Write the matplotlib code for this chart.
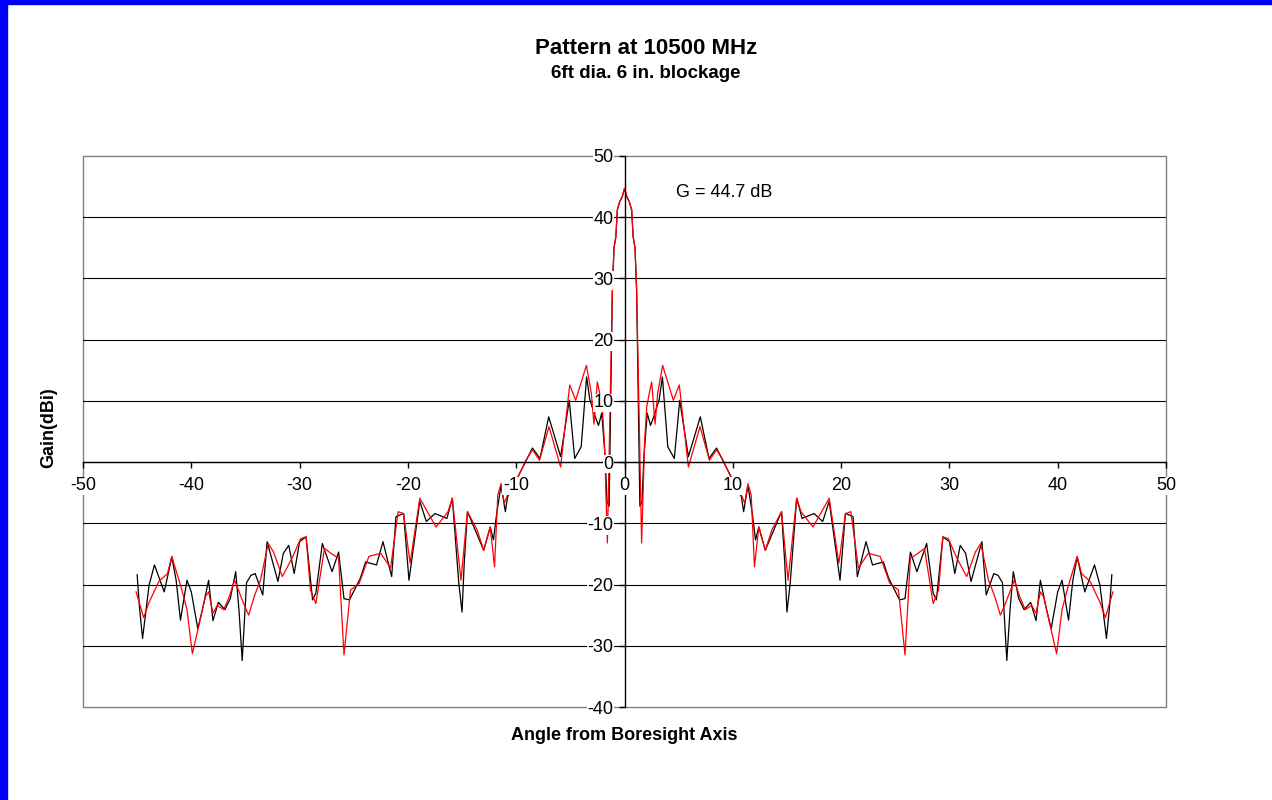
import matplotlib
matplotlib.use('Agg')
import matplotlib.pyplot as plt
import matplotlib.patches as patches
import numpy as np

plt.rcParams['font.family'] = ['Liberation Sans', 'DejaVu Sans']
plt.rcParams['axes.unicode_minus'] = False

# one side of the cut (0..45 deg); the measured pattern is symmetric about boresight
red_angle = [0.0, 0.2, 0.45, 0.66, 0.8, 0.97, 1.12, 1.58, 1.85, 2.05, 2.35, 2.51, 2.82, 3.06,
             3.52, 4.51, 5.06, 5.9, 6.97, 7.85, 8.5, 9.1, 9.74, 10.8, 11.1, 11.4, 11.7, 12.0,
             12.4, 13.0, 13.6, 14.5, 15.1, 15.9, 16.3, 17.4, 18.9, 19.8, 20.4, 20.9, 21.6,
             22.5, 23.6, 24.5, 25.3, 25.9, 26.4, 27.1, 27.7, 28.5, 29.0, 29.4, 29.9, 30.7,
             31.6, 32.4, 32.9, 33.6, 34.2, 34.7, 35.1, 36.0, 36.5, 37.0, 37.6, 38.0, 38.4,
             38.7, 39.9, 40.4, 40.9, 41.8, 42.2, 43.0, 43.9, 44.4, 45.1]
red_gain = [44.7, 43.4, 42.5, 41.2, 36.8, 35.0, 28.1, -13.2, 3.0, 9.0, 11.8, 13.1, 6.2, 11.2,
            15.8, 10.1, 12.6, -0.8, 5.8, 0.3, 2.0, 0.3, -2.1, -5.4, -6.7, -3.5, -5.4, -17.1,
            -10.6, -14.4, -11.1, -8.1, -19.3, -5.9, -8.1, -10.6, -5.9, -16.5, -8.4, -8.1, -17.3,
            -14.9, -15.4, -19.8, -20.9, -31.5, -15.7, -14.9, -14.1, -23.1, -20.9, -12.2, -12.5, -15.7,
            -18.7, -14.7, -13.3, -19.2, -22.0, -25.0, -23.4, -19.3, -22.0, -24.1, -23.4, -24.7, -21.2,
            -22.0, -31.3, -24.1, -20.7, -15.4, -18.2, -19.5, -22.9, -25.4, -21.2]

black_angle = [0.0, 0.2, 0.45, 0.66, 0.8, 0.97, 1.12, 1.42, 1.62, 1.78, 2.1, 2.4, 2.7, 3.2,
               3.5, 4.0, 4.6, 5.1, 5.9, 7.0, 7.8, 8.5, 9.7, 10.8, 11.0, 11.4, 11.8, 12.1,
               12.4, 13.0, 14.5, 14.8, 15.0, 15.3, 15.9, 16.4, 17.5, 18.3, 18.9, 19.9, 20.4,
               21.1, 21.5, 22.3, 22.9, 23.9, 24.4, 25.4, 25.9, 26.4, 27.0, 27.9, 28.5, 28.8,
               29.4, 30.0, 30.5, 31.0, 31.5, 32.0, 33.0, 33.4, 34.1, 34.5, 34.9, 35.3, 35.6,
               35.9, 36.4, 36.9, 37.5, 38.0, 38.4, 39.0, 39.4, 40.0, 40.4, 41.0, 41.4, 41.8,
               42.5, 43.4, 43.9, 44.5, 44.8, 45.0]
black_gain = [44.7, 43.4, 42.5, 41.2, 36.8, 35.0, 28.1, -7.2, -6.5, 0.6, 8.0, 6.0, 7.4, 10.2,
              13.9, 2.5, 0.6, 10.1, 0.9, 7.4, 0.6, 2.3, -1.9, -5.7, -8.1, -3.8, -8.4, -12.7,
              -10.6, -14.4, -8.1, -16.5, -24.5, -19.8, -5.9, -9.2, -8.4, -9.7, -6.4, -19.3, -8.4,
              -8.9, -18.7, -13.0, -16.8, -16.3, -19.0, -22.5, -22.3, -14.7, -17.9, -13.3, -21.4, -22.5,
              -12.2, -13.0, -18.2, -13.6, -14.9, -19.5, -13.0, -21.7, -18.2, -18.5, -19.7, -32.4, -24.1,
              -17.9, -22.3, -24.1, -22.9, -25.9, -19.3, -24.3, -27.2, -21.2, -19.3, -25.8, -19.3, -15.5,
              -21.2, -16.8, -20.1, -28.8, -23.4, -18.4]

x_ticks = [-50, -40, -30, -20, -10, 0, 10, 20, 30, 40, 50]
y_ticks = [-40, -30, -20, -10, 0, 10, 20, 30, 40, 50]
grid_levels = [-30, -20, -10, 0, 10, 20, 30, 40]


def mirror(angle, gain):
    a = np.asarray(angle)
    g = np.asarray(gain)
    return np.concatenate([-a[:0:-1], a]), np.concatenate([g[:0:-1], g])


W, H = 1272, 800
fig = plt.figure(figsize=(W / 100, H / 100), dpi=100)
ax = fig.add_axes([83 / W, 93 / H, 1083 / W, 551 / H])
ax.set_xlim(-50, 50)
ax.set_ylim(-40, 50)

for lvl in grid_levels:
    ax.axhline(lvl, color='black', lw=0.8, zorder=1)

bx, bg = mirror(black_angle, black_gain)
rx, rg = mirror(red_angle, red_gain)
ax.plot(bx, bg, color='black', lw=0.9, zorder=2)
ax.plot(rx, rg, color='red', lw=0.9, zorder=2.1)

# axes cross at the origin, Excel style
ax.spines['left'].set_position(('data', 0))
ax.spines['bottom'].set_position(('data', 0))
ax.spines['top'].set_visible(False)
ax.spines['right'].set_visible(False)
for s in ('left', 'bottom'):
    ax.spines[s].set_linewidth(1.0)
ax.set_axisbelow(False)

# plot area border
ax.add_patch(patches.Rectangle((0, 0), 1, 1, transform=ax.transAxes, fill=False,
                               edgecolor='#808080', lw=1.0, zorder=0.5, clip_on=False))

ax.set_xticks(x_ticks)
ax.set_yticks(y_ticks)
ax.tick_params(axis='both', direction='out', length=4, width=1, labelsize=13)
ax.tick_params(axis='x', pad=7)
ax.tick_params(axis='y', pad=4)
for lbl in ax.get_xticklabels() + ax.get_yticklabels():
    lbl.set_bbox(dict(facecolor='white', edgecolor='none', pad=0.5))

ax.text(4.75, 44.0, 'G = 44.7 dB', ha='left', va='center', fontsize=13)

fig.text(646 / W, 1 - 48 / H, 'Pattern at 10500 MHz', ha='center', va='center',
         fontsize=16, fontweight='bold')
fig.text(646 / W, 1 - 74 / H, '6ft dia. 6 in. blockage', ha='center', va='center',
         fontsize=13.5, fontweight='bold')
fig.text(624 / W, 1 - 735 / H, 'Angle from Boresight Axis', ha='center', va='center',
         fontsize=13, fontweight='bold')
fig.text(49 / W, 1 - 428 / H, 'Gain(dBi)', ha='center', va='center', rotation=90,
         fontsize=13, fontweight='bold')

# window frame
fig.patches.append(patches.Rectangle((0, 0), 7 / W, 1, transform=fig.transFigure,
                                     color='#0000ff', zorder=5))
fig.patches.append(patches.Rectangle((0, 1 - 4 / H), 1, 4 / H, transform=fig.transFigure,
                                     color='#0000ff', zorder=5))

fig.savefig('out.png', dpi=100)
